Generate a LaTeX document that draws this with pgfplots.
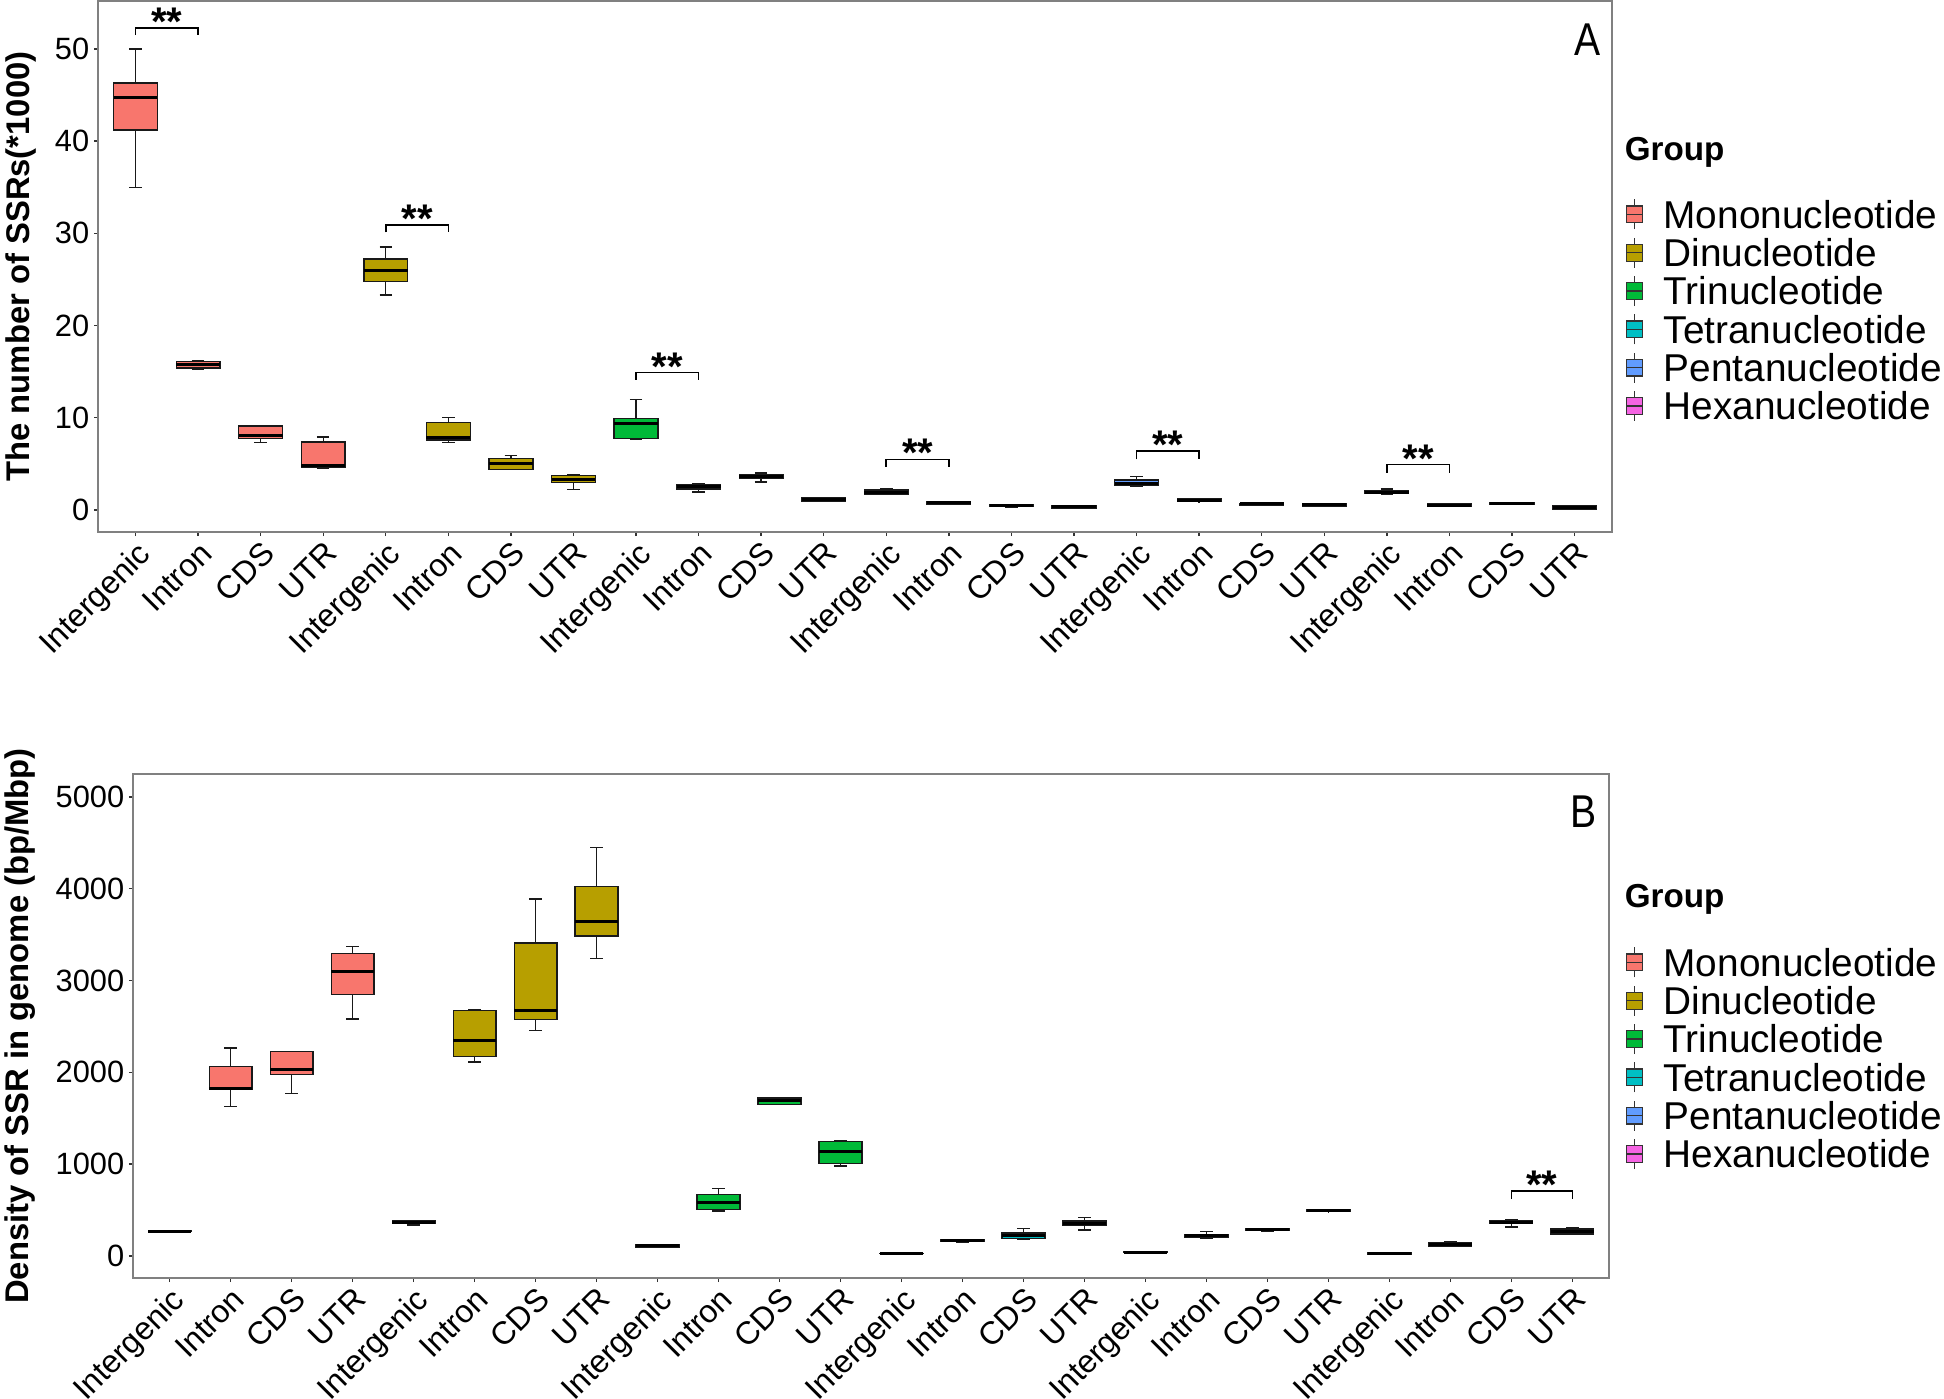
\documentclass[border=0pt]{standalone}
\usepackage{pgfplots}
\pgfplotsset{compat=1.18}
\usepgfplotslibrary{statistics}
\usepackage{fontspec}
\setmainfont{Liberation Sans}

\definecolor{c1}{HTML}{F8766D}
\definecolor{c2}{HTML}{B79F00}
\definecolor{c3}{HTML}{00BA38}
\definecolor{c4}{HTML}{00BFC4}
\definecolor{c5}{HTML}{619CFF}
\definecolor{c6}{HTML}{F564E3}

% box: position, colour, lower whisker, lower quartile, median, upper quartile, upper whisker
\newcommand{\bx}[7]{\addplot[draw=black!90, fill=#2, line width=0.35pt,
  boxplot/draw direction=y,
  boxplot/every median/.style={line width=0.75pt, draw=black},
  boxplot prepared={draw position=#1, lower whisker=#3, lower quartile=#4,
  median=#5, upper quartile=#6, upper whisker=#7, box extend=0.7, whisker extend=0.2}]
  coordinates {};}
% significance bracket: x1, x2, line y, leg end y
\newcommand{\sig}[4]{\draw[line width=0.4pt] (axis cs:#1,#4) -- (axis cs:#1,#3) -- (axis cs:#2,#3) -- (axis cs:#2,#4);
  \node[anchor=base, inner sep=0pt, yshift=-1.9pt, font=\bfseries\fontsize{10}{10}\selectfont] at (axis cs:#1.5,#3) {**};}

\pgfplotsset{myax/.style={
  scale only axis, anchor=south west,
  xmin=-0.6, xmax=23.6, xtick={0,...,23},
  xticklabels={Intergenic,Intron,CDS,UTR,Intergenic,Intron,CDS,UTR,Intergenic,Intron,CDS,UTR,Intergenic,Intron,CDS,UTR,Intergenic,Intron,CDS,UTR,Intergenic,Intron,CDS,UTR},
  tick pos=left,
  tick align=outside, major tick length=1pt,
  tick style={black!80, line width=0.35pt},
  axis line style={gray, line width=0.5pt},
  xticklabel style={rotate=45, anchor=north east, inner sep=0.5pt, font=\fontsize{8.0}{9}\selectfont},
  yticklabel style={inner sep=1pt, font=\fontsize{7.7}{8}\selectfont},
  /pgf/number format/assume math mode=true,
  /pgf/number format/1000 sep={},
  scaled y ticks=false,
  clip=false,
}}

\begin{document}
\begin{tikzpicture}
\path[use as bounding box] (0pt,-349.75pt) rectangle (486pt,0pt);

% ---------------- Panel A ----------------
\begin{axis}[myax, at={(24.5pt,-133pt)}, width=378.5pt, height=132.75pt,
  ymin=-2.4, ymax=55.2, ytick={0,10,20,30,40,50},
  every axis y label/.style={at={(axis description cs:-0.0509,0.5)}, rotate=90, anchor=center, font=\bfseries\fontsize{8.2}{9}\selectfont},
  ylabel={The number of SSRs(*1000)}]
\bx{0}{c1}{35.0}{41.2}{44.7}{46.3}{50.0}
\bx{1}{c1}{15.3}{15.4}{15.8}{16.1}{16.2}
\bx{2}{c1}{7.3}{7.73}{8.1}{9.08}{9.1}
\bx{3}{c1}{4.46}{4.58}{4.76}{7.35}{7.9}
\bx{4}{c2}{23.3}{24.75}{26.0}{27.2}{28.5}
\bx{5}{c2}{7.3}{7.58}{7.88}{9.45}{10.05}
\bx{6}{c2}{4.35}{4.4}{4.99}{5.59}{5.93}
\bx{7}{c2}{2.2}{3.0}{3.34}{3.71}{3.83}
\bx{8}{c3}{7.7}{7.73}{9.38}{9.94}{12.0}
\bx{9}{c3}{1.95}{2.25}{2.5}{2.78}{2.8}
\bx{10}{c3}{3.04}{3.38}{3.6}{3.83}{3.98}
\bx{11}{c3}{0.95}{0.98}{1.16}{1.35}{1.37}
\bx{12}{c4}{1.65}{1.73}{1.9}{2.14}{2.25}
\bx{13}{c4}{0.62}{0.64}{0.75}{0.86}{0.88}
\bx{14}{c4}{0.33}{0.34}{0.45}{0.53}{0.55}
\bx{15}{c4}{0.15}{0.22}{0.37}{0.49}{0.5}
\bx{16}{c5}{2.6}{2.7}{2.89}{3.22}{3.64}
\bx{17}{c5}{0.88}{0.9}{1.05}{1.16}{1.18}
\bx{18}{c5}{0.52}{0.53}{0.64}{0.71}{0.72}
\bx{19}{c5}{0.36}{0.38}{0.53}{0.68}{0.7}
\bx{20}{c6}{1.74}{1.76}{1.91}{2.06}{2.25}
\bx{21}{c6}{0.36}{0.38}{0.49}{0.64}{0.66}
\bx{22}{c6}{0.58}{0.6}{0.68}{0.79}{0.8}
\bx{23}{c6}{0.1}{0.11}{0.22}{0.41}{0.45}
\sig{0}{1}{52.3}{51.5}
\sig{4}{5}{30.9}{30.1}
\sig{8}{9}{14.9}{14.1}
\sig{12}{13}{5.48}{4.69}
\sig{16}{17}{6.38}{5.48}
\sig{20}{21}{4.91}{4.05}
\end{axis}

% ---------------- Panel B ----------------
\begin{axis}[myax, at={(33.25pt,-319.5pt)}, width=369pt, height=126pt,
  ymin=-240, ymax=5250, ytick={0,1000,2000,3000,4000,5000},
  every axis y label/.style={at={(axis description cs:-0.0766,0.5)}, rotate=90, anchor=center, font=\bfseries\fontsize{8.2}{9}\selectfont},
  ylabel={Density of SSR in genome (bp/Mbp)}]
\bx{0}{c1}{262}{265}{271}{278}{280}
\bx{1}{c1}{1627}{1813}{1827}{2062}{2267}
\bx{2}{c1}{1773}{1978}{2027}{2227}{2230}
\bx{3}{c1}{2582}{2849}{3098}{3293}{3373}
\bx{4}{c2}{338}{351}{369}{382}{385}
\bx{5}{c2}{2111}{2173}{2351}{2676}{2680}
\bx{6}{c2}{2458}{2578}{2671}{3409}{3889}
\bx{7}{c2}{3240}{3484}{3640}{4022}{4449}
\bx{8}{c3}{96}{98}{111}{124}{126}
\bx{9}{c3}{489}{507}{582}{667}{733}
\bx{10}{c3}{1650}{1653}{1689}{1720}{1722}
\bx{11}{c3}{982}{1009}{1138}{1249}{1252}
\bx{12}{c4}{22}{24}{27}{30}{32}
\bx{13}{c4}{154}{156}{164}{173}{175}
\bx{14}{c4}{182}{191}{227}{249}{302}
\bx{15}{c4}{284}{333}{356}{382}{418}
\bx{16}{c5}{35}{37}{40}{43}{45}
\bx{17}{c5}{196}{204}{222}{236}{267}
\bx{18}{c5}{274}{276}{284}{298}{300}
\bx{19}{c5}{482}{484}{493}{502}{504}
\bx{20}{c6}{16}{18}{27}{36}{38}
\bx{21}{c6}{102}{107}{124}{147}{151}
\bx{22}{c6}{316}{351}{369}{387}{390}
\bx{23}{c6}{236}{240}{267}{293}{307}
\sig{22}{23}{707}{618}
\end{axis}

% panel letters
\node[inner sep=0pt, font=\fontsize{11.5}{12}\selectfont] at (396.8pt,-9.9pt) {\scalebox{0.85}[1]{A}};
\node[inner sep=0pt, font=\fontsize{11.5}{12}\selectfont] at (396.0pt,-203pt) {\scalebox{0.85}[1]{B}};

% legends
\foreach \yg in {-38.1pt, -224.8pt} {
  \node[anchor=west, inner sep=0pt, font=\bfseries\fontsize{8.3}{9}\selectfont] at (406pt,\yg) {Group};
}
\foreach \name [count=\i] in {Mononucleotide,Dinucleotide,Trinucleotide,Tetranucleotide,Pentanucleotide,Hexanucleotide} {
  \foreach \ys in {-53.6, -240.6} {
    \pgfmathsetmacro{\yy}{\ys-(\i-1)*9.58}
    \draw[line width=0.3pt, black!80] (408.6pt,\yy pt-3.75pt) -- (408.6pt,\yy pt+3.75pt);
    \draw[line width=0.3pt, black!80, fill=c\i] (406.6pt,\yy pt-2.1pt) rectangle (410.6pt,\yy pt+2.1pt);
    \draw[line width=0.3pt, black!80] (406.6pt,\yy pt) -- (410.6pt,\yy pt);
    \node[anchor=west, inner sep=0pt, font=\fontsize{9.7}{10}\selectfont] at (415.7pt,\yy pt) {\name};
  }
}
\end{tikzpicture}
\end{document}
